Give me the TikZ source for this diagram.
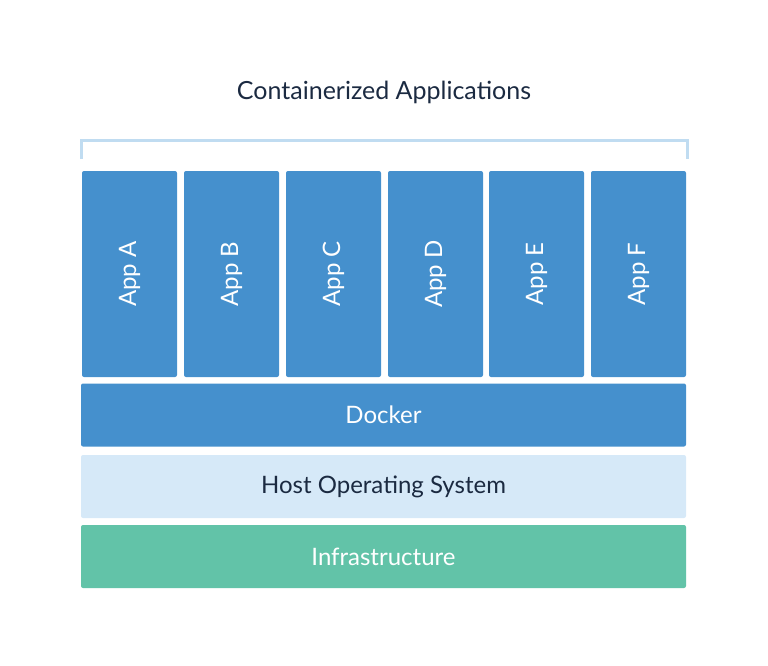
\documentclass[tikz,border=0pt]{standalone}
\usepackage{fontspec}
\setmainfont{Lato}
\usetikzlibrary{positioning}
\definecolor{appblue}{HTML}{4590CD}
\definecolor{hostblue}{HTML}{D6E9F8}
\definecolor{infragreen}{HTML}{62C3A8}
\definecolor{inkdark}{HTML}{1B2A41}
\tikzset{
  layer/.style={draw=none,rounded corners=2pt,minimum width=605pt,minimum height=63pt,font=\fontsize{24}{28}\selectfont},
  app/.style={fill=appblue,draw=none,rounded corners=2pt,minimum width=95pt,minimum height=206pt,text=white,font=\fontsize{24}{28}\selectfont}
}
\begin{document}
\begin{tikzpicture}[x=1pt,y=-1pt]
	\useasboundingbox (0,0) rectangle (768,665);
	\node[text=inkdark,font=\fontsize{25}{30}\selectfont] (title) at (384,92) {Containerized Applications};
	% bracket over the apps
	\coordinate (bl) at (81,159);
	\coordinate (br) at (687,159);
	\draw[hostblue!85!appblue,line width=3pt] (bl) -- ++(0,-19) -| (br);
	% apps
	\foreach \name/\x [count=\i] in {A/129.5,B/231.5,C/333.5,D/435.5,E/536.5,F/638.5}
	  \node[app] (app_\i) at (\x,274) {\rotatebox{90}{App \name}};
	\node[layer,fill=appblue,text=white] (docker) at (383.5,415) {Docker};
	\node[layer,fill=hostblue,text=inkdark] (host) at (383.5,486.5) {Host Operating System};
	\node[layer,fill=infragreen,text=white] (infra) at (383.5,556.5) {Infrastructure};
\end{tikzpicture}
\end{document}
